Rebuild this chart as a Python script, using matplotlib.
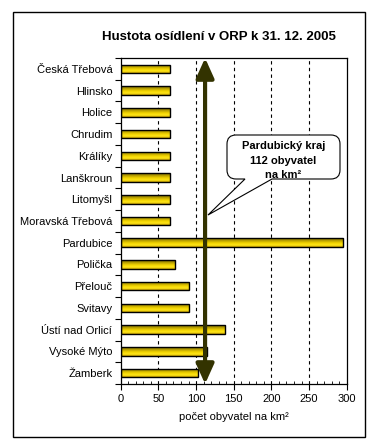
import numpy as np
import matplotlib
matplotlib.use("Agg")
import matplotlib.pyplot as plt
import matplotlib.ticker as ticker
import matplotlib.transforms as mtransforms
from matplotlib.path import Path
from matplotlib.patches import PathPatch, Rectangle, FancyArrowPatch
from matplotlib.colors import LinearSegmentedColormap

# ---------------------------------------------------------------------------
# Data
# ---------------------------------------------------------------------------
orp = ["Česká Třebová", "Hlinsko", "Holice", "Chrudim", "Králíky", "Lanškroun",
       "Litomyšl", "Moravská Třebová", "Pardubice", "Polička", "Přelouč",
       "Svitavy", "Ústí nad Orlicí", "Vysoké Mýto", "Žamberk"]
density = [65, 65, 65, 65, 65, 65, 65, 65, 295, 72, 91, 90, 139, 114, 102]
kraj_density = 112
x_ticks = [0, 50, 100, 150, 200, 250, 300]

title = "Hustota osídlení v ORP k 31. 12. 2005"
xlabel = "počet obyvatel na km²"
callout_lines = ["Pardubický kraj", "112 obyvatel", "na km²"]

plt.rcParams['font.family'] = ['Liberation Sans', 'DejaVu Sans']

W, H = 377, 446
fig = plt.figure(figsize=(W / 100, H / 100), dpi=100)
fig.patch.set_facecolor("white")

# pixel transform, origin at top-left of the figure
px = mtransforms.Affine2D().scale(1 / W, -1 / H).translate(0, 1) + fig.transFigure

ax = fig.add_axes([120.7 / W, 62 / H, 226 / W, 326 / H])

y = np.arange(len(orp))
bar_h = 0.39

# gold gradient fill for bars
grad = LinearSegmentedColormap.from_list(
    "gold", [(0.0, "#7a6800"), (0.55, "#f2d400"), (0.8, "#ffe61a"), (1.0, "#c9a000")])
gimg = np.linspace(0, 1, 64).reshape(-1, 1)

bars = ax.barh(y, density, height=bar_h, color="none", edgecolor="black",
               linewidth=1.0, zorder=3)
for b in bars:
    x0, y0 = b.get_x(), b.get_y()
    w, h = b.get_width(), b.get_height()
    im = ax.imshow(gimg, cmap=grad, aspect="auto", extent=(x0, x0 + w, y0 + h, y0),
                   zorder=2, interpolation="bilinear")
    im.set_clip_path(b)

ax.set_xlim(0, 300)
ax.set_ylim(len(orp) - 0.5, -0.5)

# grid
for v in x_ticks[1:-1]:
    ax.axvline(v, color="black", lw=0.8, linestyle=(0, (3, 3)), zorder=1)

# ticks
ax.set_xticks(x_ticks)
ax.xaxis.set_minor_locator(ticker.MultipleLocator(10))
ax.tick_params(axis="x", which="major", direction="out", length=4, width=0.8,
               labelsize=8, pad=3)
ax.tick_params(axis="x", which="minor", direction="in", length=2, width=0.6)
ax.set_yticks(y)
ax.set_yticklabels(orp)
ax.yaxis.set_minor_locator(ticker.FixedLocator(np.arange(-0.5, len(orp), 1.0)))
ax.tick_params(axis="y", which="major", length=0, labelsize=8, pad=6)
ax.tick_params(axis="y", which="minor", direction="out", length=4, width=0.8)
for s in ax.spines.values():
    s.set_linewidth(0.9)

ax.set_xlabel(xlabel, fontsize=8, labelpad=6)

# double-headed arrow at the regional average
arr = FancyArrowPatch((kraj_density, -0.5), (kraj_density, len(orp) - 0.5),
                      arrowstyle="<|-|>,head_length=1.0,head_width=0.45",
                      mutation_scale=12, color="#333300", lw=3,
                      shrinkA=0, shrinkB=0, zorder=5, clip_on=False)
ax.add_patch(arr)

# callout bubble
x0, y0, x1, y1, r = 227, 135, 340, 179, 9
bx1, bx2, tip = 245, 272, (208, 215)
verts = [(x0 + r, y0), (x1 - r, y0), (x1, y0), (x1, y0 + r), (x1, y1 - r),
         (x1, y1), (x1 - r, y1), (bx2, y1), tip, (bx1, y1), (x0 + r, y1),
         (x0, y1), (x0, y1 - r), (x0, y0 + r), (x0, y0), (x0 + r, y0), (x0 + r, y0)]
codes = [Path.MOVETO, Path.LINETO, Path.CURVE3, Path.CURVE3, Path.LINETO,
         Path.CURVE3, Path.CURVE3, Path.LINETO, Path.LINETO, Path.LINETO, Path.LINETO,
         Path.CURVE3, Path.CURVE3, Path.LINETO, Path.CURVE3, Path.CURVE3, Path.CLOSEPOLY]
bubble = PathPatch(Path(verts, codes), facecolor="white", edgecolor="black",
                   lw=0.8, transform=px, zorder=6)
fig.patches.append(bubble)
for i, line in enumerate(callout_lines):
    fig.text((x0 + x1) / 2, 146 + i * 14.5, line, transform=px, ha="center",
             va="center", fontsize=8, fontweight="bold", zorder=7)

# title
fig.text(219, 37, title, transform=px, ha="center", va="center",
         fontsize=9.5, fontweight="bold")

# outer chart frame
frame = Rectangle((13, 12), 352, 425, transform=px, fill=False,
                  edgecolor="black", lw=1.0)
fig.patches.append(frame)

fig.savefig("out.png", dpi=100, facecolor="white")
